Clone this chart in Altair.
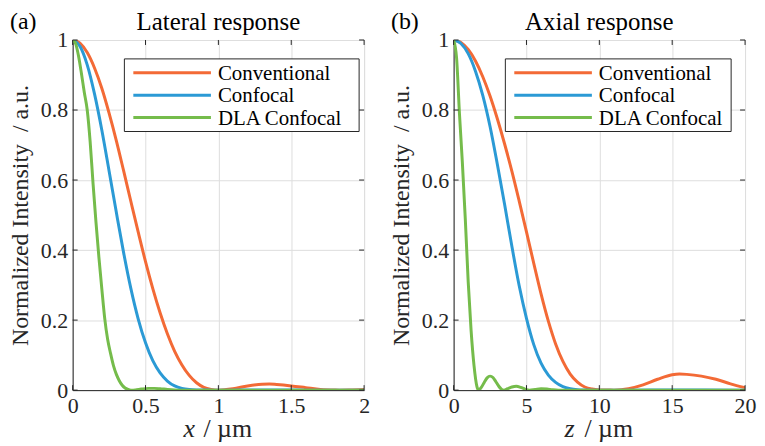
import altair as alt
import pandas as pd

SERIES = ["Conventional", "Confocal", "DLA Confocal"]
COLORS = ["#F36A36", "#2B9AD5", "#75BC4B"]
FONT = "Liberation Serif"

# ---------------- Lateral response (a) ----------------
lat_x = [0, 0.05, 0.1, 0.15, 0.2, 0.25, 0.3, 0.35, 0.4, 0.45, 0.5, 0.55, 0.6, 0.65,
         0.7, 0.75, 0.8, 0.85, 0.9, 0.95, 1.0, 1.1, 1.2, 1.3, 1.35, 1.4, 1.5, 1.6,
         1.7, 1.8, 1.83, 1.9, 2.0]
lat_conv = [1.0, 0.991, 0.964, 0.920, 0.862, 0.791, 0.712, 0.626, 0.538, 0.451, 0.367,
            0.290, 0.221, 0.161, 0.111, 0.072, 0.042, 0.021, 0.008, 0.002, 0.0, 0.004,
            0.012, 0.017, 0.0175, 0.016, 0.012, 0.007, 0.002, 0.0002, 0.0, 0.0005, 0.002]
lat_conf = [1.0, 0.982, 0.929, 0.846, 0.743, 0.626, 0.507, 0.392, 0.289, 0.203, 0.135,
            0.084, 0.049, 0.026, 0.012, 0.005, 0.0018, 0.0005, 0.0001, 0.0, 0.0, 0.0,
            0.0001, 0.0003, 0.0003, 0.0003, 0.0001, 0.0, 0.0, 0.0, 0.0, 0.0, 0.0]
lat_dla_x = [0, 0.02, 0.04, 0.06, 0.08, 0.10, 0.12, 0.14, 0.16, 0.18, 0.20, 0.22, 0.24,
             0.26, 0.28, 0.30, 0.32, 0.34, 0.36, 0.38, 0.40, 0.43, 0.47, 0.52, 0.56,
             0.60, 0.65, 0.70, 0.75, 1.0, 1.5, 2.0]
lat_dla = [1.0, 0.99, 0.955, 0.905, 0.85, 0.80, 0.71, 0.59, 0.48, 0.38, 0.29, 0.205,
           0.145, 0.105, 0.07, 0.045, 0.027, 0.014, 0.006, 0.002, 0.0, 0.0005, 0.003,
           0.005, 0.005, 0.004, 0.002, 0.0005, 0.0, 0.0, 0.0, 0.0]
lat_ticks_x = [0, 0.5, 1, 1.5, 2]

# ---------------- Axial response (b) ----------------
ax_conv_z = [0, 0.5, 1, 1.5, 2, 2.5, 3, 3.5, 4, 4.5, 5, 5.5, 6, 6.5, 7, 7.5, 8, 8.5,
             9, 9.5, 10, 10.5, 11, 11.5, 12, 13, 14, 15, 15.5, 16, 17, 18, 19, 20]
ax_conv = [1.0, 0.993, 0.973, 0.940, 0.895, 0.840, 0.775, 0.703, 0.625, 0.540, 0.452,
           0.362, 0.275, 0.197, 0.132, 0.082, 0.046, 0.023, 0.009, 0.003, 0.0006,
           0.0001, 0.0, 0.001, 0.004, 0.015, 0.031, 0.044, 0.046, 0.045, 0.040, 0.031,
           0.018, 0.007]
ax_conf_z = [0, 0.5, 1, 1.5, 2, 2.5, 3, 3.5, 4, 4.5, 5, 5.5, 6, 6.5, 7, 7.5, 8, 8.5,
             9, 9.5, 10, 12, 15, 20]
ax_conf = [1.0, 0.990, 0.961, 0.911, 0.842, 0.753, 0.645, 0.530, 0.410, 0.298, 0.205,
           0.130, 0.077, 0.043, 0.022, 0.010, 0.004, 0.0012, 0.0003, 0.0, 0.0, 0.0,
           0.0005, 0.0]
ax_dla_z = [0, 0.2, 0.4, 0.6, 0.8, 1.0, 1.2, 1.4, 1.6, 1.7, 1.9, 2.1, 2.3, 2.5, 2.7,
            2.9, 3.1, 3.3, 3.45, 3.7, 4.0, 4.3, 4.6, 4.9, 5.2, 5.6, 6.0, 6.4, 6.8, 7.2,
            10, 15, 20]
ax_dla = [1.0, 0.95, 0.79, 0.65, 0.49, 0.31, 0.17, 0.07, 0.01, 0.0, 0.008, 0.022,
          0.035, 0.04, 0.036, 0.024, 0.011, 0.002, 0.0, 0.004, 0.009, 0.011, 0.008,
          0.003, 0.0, 0.002, 0.004, 0.003, 0.001, 0.0, 0.0, 0.0, 0.0]
ax_ticks_x = [0, 5, 10, 15, 20]

y_ticks = [0, 0.2, 0.4, 0.6, 0.8, 1]

W, H = 293, 352
INK = "#262626"


def panel(letter, title, xname, xmax, xticks, series, legend_right):
    xscale = alt.Scale(domain=[0, xmax], nice=False, zero=False)
    yscale = alt.Scale(domain=[0, 1], nice=False)
    xaxis = alt.Axis(values=xticks, labelExpr="format(datum.value, '~g')", title=None,
                     grid=True, ticks=False, labelFont=FONT, labelFontSize=22,
                     labelColor=INK, labelPadding=6, domainColor=INK,
                     gridColor="#DEDEDE", labelFlush=False)
    yaxis = alt.Axis(values=y_ticks, labelExpr="format(datum.value, '~g')",
                     title="Normalized Intensity\u00a0\u00a0/ a.u.", titleFont=FONT,
                     titleFontSize=24, titleFontWeight="normal", titleColor=INK,
                     titlePadding=8, grid=True, ticks=False, labelFont=FONT,
                     labelFontSize=22, labelColor=INK, labelPadding=5,
                     domainColor=INK, gridColor="#DEDEDE", labelFlush=False)

    layers = []
    for i, (xs, ys) in enumerate(series):
        df = pd.DataFrame({"x": xs, "y": ys, "s": SERIES[i]})
        layers.append(
            alt.Chart(df).mark_line(color=COLORS[i], strokeWidth=3,
                                    interpolate="monotone", clip=True).encode(
                x=alt.X("x:Q", scale=xscale, axis=xaxis),
                y=alt.Y("y:Q", scale=yscale, axis=yaxis))
        )

    # inward tick marks (MATLAB style) on all four sides
    xt = pd.DataFrame({"x": xticks})
    yt = pd.DataFrame({"y": y_ticks})
    for y0, y1 in [(H, H - 5), (0, 5)]:
        layers.append(alt.Chart(xt).mark_rule(color=INK, strokeWidth=1).encode(
            x=alt.X("x:Q", scale=xscale, axis=xaxis),
            y=alt.value(y0), y2=alt.value(y1)))
    for x0, x1 in [(0, 5), (W, W - 5)]:
        layers.append(alt.Chart(yt).mark_rule(color=INK, strokeWidth=1).encode(
            y=alt.Y("y:Q", scale=yscale, axis=yaxis),
            x=alt.value(x0), x2=alt.value(x1)))

    one = pd.DataFrame({"a": [0]})
    # legend box
    layers.append(alt.Chart(one).mark_rect(fill="white", stroke=INK,
                                           strokeWidth=1).encode(
        x=alt.value(52), x2=alt.value(legend_right), y=alt.value(19), y2=alt.value(92)))
    for i, name in enumerate(SERIES):
        yy = 33 + i * 22.5
        layers.append(alt.Chart(one).mark_rule(color=COLORS[i], strokeWidth=3).encode(
            x=alt.value(61), x2=alt.value(139), y=alt.value(yy)))
        layers.append(alt.Chart(one).mark_text(text=name, font=FONT, fontSize=21,
                                               align="left", baseline="middle",
                                               color="black").encode(
            x=alt.value(146), y=alt.value(yy + 1)))

    # panel letter and title
    layers.append(alt.Chart(one).mark_text(text=letter, font=FONT, fontSize=24,
                                           align="left", baseline="alphabetic",
                                           color="black").encode(
        x=alt.value(-63), y=alt.value(-11)))
    layers.append(alt.Chart(one).mark_text(text=title, font=FONT, fontSize=25,
                                           align="center", baseline="alphabetic",
                                           color="black").encode(
        x=alt.value(W / 2), y=alt.value(-10)))
    # x axis title: italic variable + unit
    layers.append(alt.Chart(one).mark_text(text=xname, font=FONT, fontSize=26,
                                           fontStyle="italic", align="left",
                                           baseline="alphabetic", color=INK).encode(
        x=alt.value(W / 2 - 35), y=alt.value(H + 47)))
    layers.append(alt.Chart(one).mark_text(text="/ µm", font=FONT, fontSize=26,
                                           align="left", baseline="alphabetic",
                                           color=INK).encode(
        x=alt.value(W / 2 - 35 + 20), y=alt.value(H + 47)))

    return alt.layer(*layers).properties(width=W, height=H)


left = panel("(a)", "Lateral response", "x", 2, lat_ticks_x,
             [(lat_x, lat_conv), (lat_x, lat_conf), (lat_dla_x, lat_dla)], 288)
right = panel("(b)", "Axial response", "z", 20, ax_ticks_x,
              [(ax_conv_z, ax_conv), (ax_conf_z, ax_conf), (ax_dla_z, ax_dla)], 279)

chart = alt.hconcat(left, right, spacing=19).properties(padding=0).configure_view(
    stroke=INK, strokeWidth=1
).configure_axis(
    labelFont=FONT, titleFont=FONT
).configure(background="white")

chart.save("out.html", embed_options={"renderer": "svg", "actions": False})
